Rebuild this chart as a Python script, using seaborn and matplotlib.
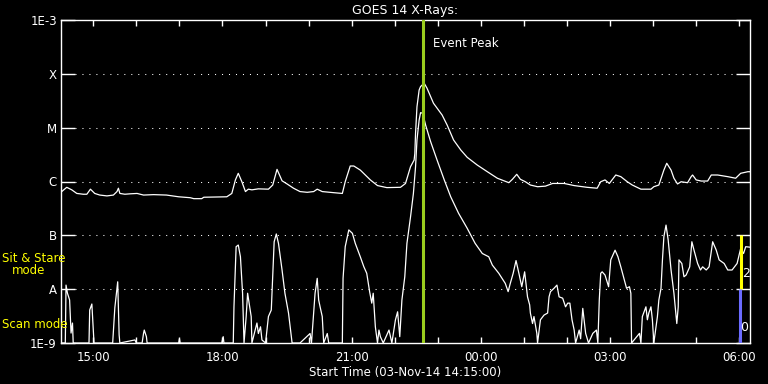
import numpy as np
import pandas as pd
import matplotlib
matplotlib.use("Agg")
import matplotlib.pyplot as plt
import matplotlib.dates as mdates
import seaborn as sns

# ---------------- data ----------------
start_time = "2014-11-03 14:15:00"
span_minutes = 960

# GOES 1-8 A (long channel): minutes after start, flux W/m^2
long_minutes = [0, 1, 8, 15, 22, 31, 36, 41, 47, 54, 64, 73, 78, 80, 82, 89, 96, 106, 115, 129,
                147, 164, 180, 185, 196, 199, 231, 238, 243, 247, 252, 257, 261, 266, 275, 289,
                295, 301, 308, 315, 324, 333, 343, 352, 357, 364, 380, 392, 396, 403, 408, 417,
                431, 441, 454, 473, 480, 487, 492, 493, 494, 496, 499, 501, 506, 510, 519, 531,
                538, 547, 557, 566, 580, 594, 608, 624, 629, 635, 640, 647, 654, 664, 675, 685,
                701, 715, 733, 747, 752, 758, 764, 773, 780, 789, 796, 808, 822, 826, 833, 840,
                844, 850, 854, 859, 864, 873, 878, 880, 885, 892, 901, 906, 915, 929, 940, 947,
                957, 961]
long_flux = [6.3e-7, 6.5e-7, 7.8e-7, 7.0e-7, 6.0e-7, 5.8e-7, 5.8e-7, 7.2e-7, 6.0e-7, 5.6e-7,
             5.4e-7, 5.6e-7, 6.5e-7, 7.5e-7, 6.0e-7, 5.8e-7, 5.9e-7, 6.0e-7, 5.6e-7, 5.7e-7,
             5.6e-7, 5.2e-7, 5.0e-7, 4.8e-7, 4.8e-7, 5.1e-7, 5.2e-7, 6.0e-7, 1.07e-6, 1.42e-6,
             9.9e-7, 6.5e-7, 7.2e-7, 7.0e-7, 7.3e-7, 7.2e-7, 8.6e-7, 1.68e-6, 1.03e-6, 9.0e-7,
             7.5e-7, 6.5e-7, 6.3e-7, 6.5e-7, 7.2e-7, 6.5e-7, 6.2e-7, 6.0e-7, 9.9e-7, 1.94e-6,
             1.94e-6, 1.63e-6, 1.07e-6, 8.4e-7, 7.7e-7, 7.8e-7, 9.2e-7, 1.88e-6, 2.5e-6, 3.3e-6,
             7.9e-6, 2.45e-5, 5.0e-5, 5.8e-5, 6.7e-5, 5.4e-5, 2.84e-5, 1.72e-5, 1.12e-5, 5.9e-6,
             3.85e-6, 2.81e-6, 2.02e-6, 1.52e-6, 1.15e-6, 9.5e-7, 1.10e-6, 1.36e-6, 1.10e-6,
             9.9e-7, 8.6e-7, 8.0e-7, 8.2e-7, 9.2e-7, 9.2e-7, 8.4e-7, 7.8e-7, 7.5e-7, 9.9e-7,
             1.07e-6, 9.2e-7, 1.32e-6, 1.23e-6, 9.9e-7, 8.6e-7, 7.2e-7, 7.2e-7, 8.0e-7, 8.6e-7,
             1.63e-6, 2.18e-6, 1.63e-6, 1.15e-6, 9.0e-7, 9.9e-7, 9.5e-7, 1.23e-6, 1.32e-6,
             1.07e-6, 1.02e-6, 1.02e-6, 1.32e-6, 1.32e-6, 1.23e-6, 1.15e-6, 1.42e-6, 1.52e-6,
             1.52e-6]

# GOES 0.5-4 A (short channel)
short_minutes = [0, 6, 7, 9, 12, 14, 15, 16, 17, 39, 40, 43, 44, 46, 72, 75, 79, 81, 82, 103,
                 105, 113, 115, 116, 119, 120, 164, 165, 166, 224, 226, 227, 240, 241, 244, 247,
                 250, 253, 255, 258, 260, 263, 265, 266, 273, 275, 278, 280, 285, 289, 293, 295,
                 297, 300, 303, 308, 312, 317, 322, 333, 347, 349, 354, 357, 359, 361, 364, 366,
                 371, 373, 392, 393, 396, 401, 406, 410, 417, 422, 426, 430, 433, 435, 438, 441,
                 443, 445, 449, 457, 461, 466, 469, 472, 475, 479, 482, 487, 491, 494, 496, 499,
                 501, 504, 508, 515, 524, 534, 543, 554, 566, 577, 587, 596, 601, 610, 619, 623,
                 626, 630, 634, 638, 642, 646, 650, 653, 654, 657, 659, 663, 664, 668, 673, 678,
                 680, 682, 687, 691, 694, 699, 703, 706, 709, 712, 715, 717, 722, 724, 727, 731,
                 735, 741, 746, 748, 750, 752, 754, 758, 763, 766, 772, 776, 780, 785, 788, 792,
                 794, 795, 806, 808, 810, 815, 817, 819, 822, 824, 826, 831, 833, 836, 838, 840,
                 843, 846, 850, 854, 858, 860, 861, 865, 868, 871, 876, 879, 882, 887, 891, 894,
                 899, 903, 908, 913, 917, 924, 929, 935, 942, 947, 951, 954, 961]
short_flux = [1e-9, 1e-9, 1.19e-8, 8.4e-9, 6.3e-9, 1.53e-9, 1.9e-9, 2.35e-9, 1e-9, 1e-9,
              4.1e-9, 5.3e-9, 3.1e-9, 1e-9, 1e-9, 4.5e-9, 1.37e-8, 1.41e-9, 1e-9, 1.14e-9,
              1e-9, 1e-9, 1.51e-9, 1.74e-9, 1.31e-9, 1e-9, 1e-9, 1.2e-9, 1e-9, 1e-9,
              1.31e-9, 1e-9, 1e-9, 4.7e-9, 6.15e-8, 6.6e-8, 4.0e-8, 8.4e-9, 1e-9, 3.1e-9,
              8.4e-9, 4.7e-9, 3.1e-9, 1e-9, 2.35e-9, 1.5e-9, 2.0e-9, 1.14e-9, 1e-9, 3.1e-9,
              4.1e-9, 1.7e-8, 7.6e-8, 1.06e-7, 7.1e-8, 2.27e-8, 8.4e-9, 3.6e-9, 1e-9, 1e-9,
              1.5e-9, 1e-9, 8.4e-9, 1.59e-8, 6.3e-9, 4.7e-9, 3.1e-9, 1e-9, 1.5e-9, 1e-9,
              1e-9, 1.59e-8, 6.15e-8, 1.26e-7, 1.09e-7, 7.1e-8, 4.0e-8, 2.6e-8, 1.97e-8, 9.0e-9,
              5.5e-9, 8.4e-9, 2.0e-9, 1e-9, 1.74e-9, 1.31e-9, 1e-9, 1.74e-9, 1e-9, 2.7e-9,
              3.8e-9, 1.31e-9, 6.3e-9, 1.7e-8, 7.1e-8, 2.2e-7, 6e-7, 1.88e-6, 5.9e-6, 1.39e-5,
              1.9e-5, 1.85e-5, 1.12e-5, 5.5e-6, 2.5e-6, 1.07e-6, 5.2e-7, 2.56e-7, 1.35e-7, 7.1e-8,
              4.6e-8, 4.0e-8, 2.8e-8, 1.97e-8, 1.28e-8, 9.0e-9, 1.28e-8, 1.97e-8, 3.4e-8, 1.97e-8,
              1.11e-8, 2.1e-8, 7.2e-9, 5.1e-9, 3.6e-9, 2.3e-9, 3.1e-9, 1.51e-9, 1e-9, 2.7e-9,
              3.3e-9, 3.6e-9, 7.2e-9, 9.0e-9, 1.04e-8, 1.19e-8, 7.2e-9, 6.8e-9, 4.7e-9, 5.5e-9,
              5.5e-9, 2.7e-9, 1.74e-9, 1e-9, 1.74e-9, 1.2e-9, 4.4e-9, 1.51e-9, 1e-9, 1.51e-9,
              1.74e-9, 1e-9, 6.3e-9, 1.97e-8, 2.1e-8, 1.83e-8, 1.11e-8, 3.5e-8, 5.3e-8, 4.0e-8,
              2.6e-8, 1.48e-8, 1.04e-8, 1.11e-8, 8.4e-9, 1e-9, 1.51e-9, 1e-9, 3.1e-9, 4.7e-9,
              2.7e-9, 3.6e-9, 4.7e-9, 2.7e-9, 1e-9, 3.1e-9, 6.3e-9, 1.04e-8, 3.5e-8, 9.4e-8,
              1.55e-7, 8.2e-8, 2.27e-8, 8.4e-9, 2.3e-9, 4.7e-9, 3.5e-8, 3.0e-8, 1.7e-8, 1.83e-8,
              2.6e-8, 7.6e-8, 5.3e-8, 3.0e-8, 2.27e-8, 2.6e-8, 2.27e-8, 2.6e-8, 7.6e-8, 5.3e-8,
              3.5e-8, 3.0e-8, 2.27e-8, 2.27e-8, 3.0e-8, 5.7e-8, 4.6e-8, 6.15e-8, 6.0e-8]

peak_minute = 505
class_levels = [1e-9, 1e-8, 1e-7, 1e-6, 1e-5, 1e-4, 1e-3]
class_labels = ["1E-9", "A", "B", "C", "M", "X", "1E-3"]
# instrument mode bars
mode_minutes = [948, 946]
mode_low = [1e-8, 1e-9]
mode_high = [1e-7, 1e-8]
mode_colors = ["#ffff00", "#6b6bff"]
mode_numbers = ["2", "0"]

# ---------------- figure ----------------
sns.set_style("dark")
plt.rcParams.update({
    "figure.facecolor": "black", "axes.facecolor": "black", "savefig.facecolor": "black",
    "text.color": "white", "axes.edgecolor": "white", "axes.labelcolor": "white",
    "xtick.color": "white", "ytick.color": "white", "axes.grid": False,
})
plt.rcParams["font.family"] = ["DejaVu Sans"]

W, H = 768, 384
fig = plt.figure(figsize=(W / 100, H / 100), dpi=100)
ax = fig.add_axes([61 / W, 1 - 343 / H, (750 - 61) / W, (343 - 20) / H])

t0 = pd.Timestamp(start_time)
df_long = pd.DataFrame({"time": t0 + pd.to_timedelta(long_minutes, unit="min"), "flux": long_flux})
df_short = pd.DataFrame({"time": t0 + pd.to_timedelta(short_minutes, unit="min"), "flux": short_flux})

ax.set_yscale("log")
sns.lineplot(data=df_long, x="time", y="flux", ax=ax, color="white", linewidth=0.9,
             estimator=None, sort=False, legend=False)
sns.lineplot(data=df_short, x="time", y="flux", ax=ax, color="white", linewidth=0.9,
             estimator=None, sort=False, legend=False)

ax.set_xlim(t0, t0 + pd.Timedelta(minutes=span_minutes))
ax.set_ylim(class_levels[0], class_levels[-1])

# dotted class grid
for lev in class_levels[1:-1]:
    ax.axhline(lev, color="white", lw=0.75, ls=(0, (1, 5.7)), zorder=1)

# event peak line
peak_t = t0 + pd.Timedelta(minutes=peak_minute)
ax.axvline(peak_t, color="#9acd1e", lw=2.2, zorder=5)
ax.text(peak_t + pd.Timedelta(minutes=14), 10 ** -3.43, "Event Peak", color="white",
        fontsize=8.5, va="center", ha="left")

# mode bars
for m, lo, hi, c, n in zip(mode_minutes, mode_low, mode_high, mode_colors, mode_numbers):
    mt = t0 + pd.Timedelta(minutes=m)
    ax.vlines(mt, lo, hi, color=c, lw=2.2, zorder=6)
    ax.text(mt + pd.Timedelta(minutes=6), np.sqrt(lo * hi) / 1.6, n, color="white",
            fontsize=9, ha="center", va="center", zorder=7)

# ticks
ax.set_yticks(class_levels)
ax.set_yticklabels(class_labels)
ax.yaxis.set_minor_locator(matplotlib.ticker.NullLocator())
ax.tick_params(axis="y", which="major", direction="in", length=10, width=1,
               left=True, right=True, labelsize=8.5, pad=3)
ax.xaxis.set_major_locator(mdates.HourLocator(byhour=range(0, 24, 3)))
ax.xaxis.set_minor_locator(mdates.HourLocator())
ax.xaxis.set_major_formatter(mdates.DateFormatter("%H:%M"))
ax.tick_params(axis="x", which="both", direction="in", length=4, width=1,
               bottom=True, top=True, labelsize=8.5, pad=6)
for s in ax.spines.values():
    s.set_color("white")
    s.set_linewidth(1)

ax.set_ylabel("")
ax.set_xlabel("Start Time (03-Nov-14 14:15:00)", fontsize=8.5, labelpad=1)
ax.set_title("GOES 14 X-Rays:", fontsize=9, color="white", pad=4)

fig.text(2 / W, 1 - 259 / H, "Sit & Stare", color="#ffff00", fontsize=8.5, va="center", ha="left")
fig.text(12 / W, 1 - 271 / H, "mode", color="#ffff00", fontsize=8.5, va="center", ha="left")
fig.text(2 / W, 1 - 324 / H, "Scan mode", color="#ffff00", fontsize=8.5, va="center", ha="left")

fig.savefig("out.png", dpi=100, facecolor="black")
